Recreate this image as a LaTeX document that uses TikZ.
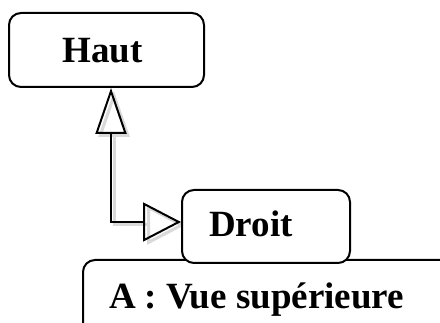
\documentclass[tikz,border=0pt]{standalone}
\usepackage{fontspec}
\setmainfont{Liberation Serif}
\usetikzlibrary{arrows.meta}
\begin{document}
\begin{tikzpicture}[x=1pt,y=1pt,
  boxstyle/.style={draw=black, line width=2pt, rounded corners=12pt, fill=white, inner sep=0pt},
  lbl/.style={font=\fontsize{37}{40}\selectfont\bfseries, inner sep=0pt, anchor=base},
  conn/.style={line width=2pt, {Triangle[open,length=46pt,width=31pt,line width=2pt]}-{Triangle[open,length=38pt,width=39pt,line width=2pt]}},
  shad/.style={line width=3pt, draw=black!15, {Triangle[open,length=46pt,width=31pt,line width=3pt]}-{Triangle[open,length=38pt,width=39pt,line width=3pt]}}
]
\useasboundingbox (0,0) rectangle (440,323);
\clip (0,0) rectangle (440,323);
\fill[white] (0,0) rectangle (440,323);
% boxes
\node[boxstyle, minimum width=195pt, minimum height=74pt] (haut) at (106.5,273) {};
\node[lbl] (hautt) at (102.5,260) {Haut};
\coordinate (elbow) at (111,101);
% shadow of connector
\draw[shad] ([shift={(3,-3)}]haut.south -| elbow) -- ([shift={(3,-3)}]elbow) -- ([shift={(3,-3)}]elbow -| 182,0);
% bottom box
\draw[boxstyle] (83,-30) rectangle (470,63);
\node[lbl] (vue) at (256.5,14) {A : Vue supérieure};
% Droit box
\node[boxstyle, minimum width=168pt, minimum height=73pt] (droit) at (266,96.5) {};
\node[lbl] (droitt) at (251,86) {Droit};
% connector
\draw[conn] (haut.south -| elbow) -- (elbow) -- (elbow -| droit.west);
\end{tikzpicture}
\end{document}
